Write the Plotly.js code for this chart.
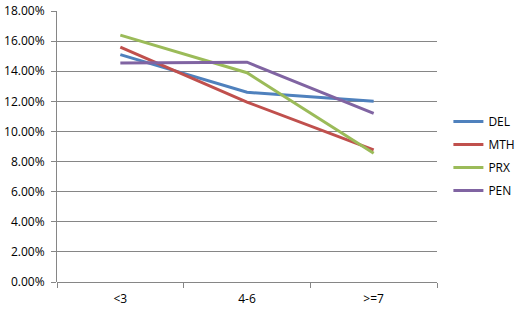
<!DOCTYPE html>
<html>
<head>
<meta charset="utf-8">
<script src="https://cdn.plot.ly/plotly-3.0.1.min.js"></script>
<style>html,body{margin:0;padding:0;background:#fff;}#chart{width:531px;height:311px;}</style>
</head>
<body>
<div id="chart"></div>
<script>
var categories = ["<3", "4-6", ">=7"];
var seriesNames = ["DEL", "MTH", "PRX", "PEN"];
var DEL = [0.151, 0.126, 0.120];
var MTH = [0.156, 0.1195, 0.0877];
var PRX = [0.164, 0.139, 0.0855];
var PEN = [0.1455, 0.146, 0.112];
var yTickVals = [0, 0.02, 0.04, 0.06, 0.08, 0.10, 0.12, 0.14, 0.16, 0.18];
var colors = ["#4F81BD", "#C0504D", "#9BBB59", "#8064A2"];
var allSeries = [DEL, MTH, PRX, PEN];

var traces = allSeries.map(function (vals, i) {
  return {
    x: categories,
    y: vals,
    name: seriesNames[i],
    type: "scatter",
    mode: "lines",
    legendgroup: seriesNames[i],
    line: { color: colors[i], width: 3 },
    hoverinfo: "none"
  };
});

var layout = {
  width: 531,
  height: 311,
  margin: { l: 57, r: 81, t: 11, b: 29, pad: 0 },
  paper_bgcolor: "#ffffff",
  plot_bgcolor: "#ffffff",
  font: { family: "Open Sans, Noto Sans, sans-serif", size: 12, color: "#000000" },
  showlegend: true,
  legend: {
    x: 1.03, xanchor: "left",
    y: 0.465, yanchor: "middle",
    traceorder: "grouped",
    tracegroupgap: 4,
    font: { size: 12, color: "#000" },
    bgcolor: "rgba(0,0,0,0)"
  },
  xaxis: {
    type: "category",
    range: [-0.5, 2.5],
    showgrid: false,
    showline: false,
    zeroline: false,
    ticks: "outside",
    tickson: "boundaries",
    ticklen: 5,
    tickcolor: "#868686",
    ticklabelstandoff: 8,
    tickfont: { size: 12 },
    fixedrange: true
  },
  yaxis: {
    range: [0, 0.18],
    tickvals: yTickVals,
    tickformat: ".2%",
    showgrid: true,
    gridcolor: "#868686",
    gridwidth: 1,
    showline: true,
    linecolor: "#868686",
    linewidth: 1,
    zeroline: true,
    zerolinecolor: "#868686",
    zerolinewidth: 1,
    ticks: "outside",
    ticklen: 5,
    tickcolor: "#868686",
    ticklabelstandoff: 4,
    tickfont: { size: 12 },
    fixedrange: true
  }
};

Plotly.newPlot("chart", traces, layout, { staticPlot: true, displayModeBar: false });
</script>
</body>
</html>
